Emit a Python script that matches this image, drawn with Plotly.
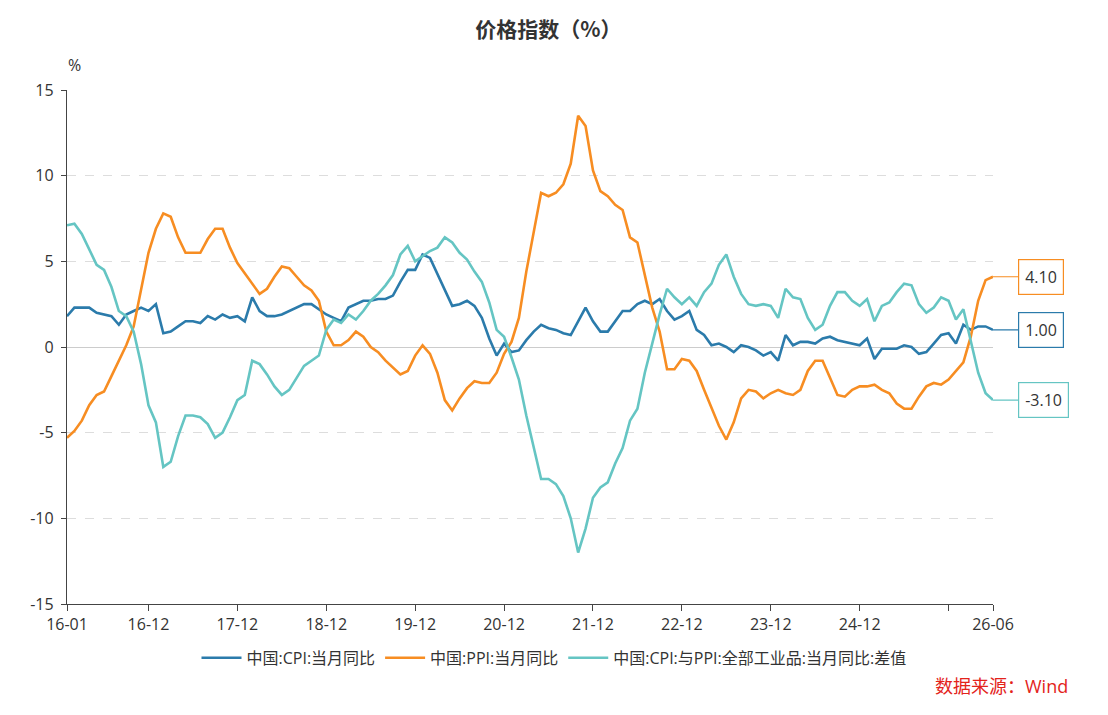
import pandas as pd
import plotly.graph_objects as go

months = [d.strftime("%y-%m") for d in pd.date_range("2016-01-01", "2026-06-01", freq="MS")]

cpi = [
    1.8, 2.3, 2.3, 2.3, 2.0, 1.9, 1.8, 1.3, 1.9, 2.1, 2.3, 2.1,
    2.5, 0.8, 0.9, 1.2, 1.5, 1.5, 1.4, 1.8, 1.6, 1.9, 1.7, 1.8,
    1.5, 2.9, 2.1, 1.8, 1.8, 1.9, 2.1, 2.3, 2.5, 2.5, 2.2, 1.9,
    1.7, 1.5, 2.3, 2.5, 2.7, 2.7, 2.8, 2.8, 3.0, 3.8, 4.5, 4.5,
    5.4, 5.2, 4.3, 3.3, 2.4, 2.5, 2.7, 2.4, 1.7, 0.5, -0.5, 0.2,
    -0.3, -0.2, 0.4, 0.9, 1.3, 1.1, 1.0, 0.8, 0.7, 1.5, 2.3, 1.5,
    0.9, 0.9, 1.5, 2.1, 2.1, 2.5, 2.7, 2.5, 2.8, 2.1, 1.6, 1.8,
    2.1, 1.0, 0.7, 0.1, 0.2, 0.0, -0.3, 0.1, 0.0, -0.2, -0.5, -0.3,
    -0.8, 0.7, 0.1, 0.3, 0.3, 0.2, 0.5, 0.6, 0.4, 0.3, 0.2, 0.1,
    0.5, -0.7, -0.1, -0.1, -0.1, 0.1, 0.0, -0.4, -0.3, 0.2, 0.7, 0.8,
    0.2, 1.3, 1.0, 1.2, 1.2, 1.0,
]

ppi = [
    -5.3, -4.9, -4.3, -3.4, -2.8, -2.6, -1.7, -0.8, 0.1, 1.2, 3.3, 5.5,
    6.9, 7.8, 7.6, 6.4, 5.5, 5.5, 5.5, 6.3, 6.9, 6.9, 5.8, 4.9,
    4.3, 3.7, 3.1, 3.4, 4.1, 4.7, 4.6, 4.1, 3.6, 3.3, 2.7, 0.9,
    0.1, 0.1, 0.4, 0.9, 0.6, 0.0, -0.3, -0.8, -1.2, -1.6, -1.4, -0.5,
    0.1, -0.4, -1.5, -3.1, -3.7, -3.0, -2.4, -2.0, -2.1, -2.1, -1.5, -0.4,
    0.3, 1.7, 4.4, 6.8, 9.0, 8.8, 9.0, 9.5, 10.7, 13.5, 12.9, 10.3,
    9.1, 8.8, 8.3, 8.0, 6.4, 6.1, 4.2, 2.3, 0.9, -1.3, -1.3, -0.7,
    -0.8, -1.4, -2.5, -3.6, -4.6, -5.4, -4.4, -3.0, -2.5, -2.6, -3.0, -2.7,
    -2.5, -2.7, -2.8, -2.5, -1.4, -0.8, -0.8, -1.8, -2.8, -2.9, -2.5, -2.3,
    -2.3, -2.2, -2.5, -2.7, -3.3, -3.6, -3.6, -2.9, -2.3, -2.1, -2.2, -1.9,
    -1.4, -0.9, 0.6, 2.7, 3.9, 4.1,
]

spread = [
    7.1, 7.2, 6.6, 5.7, 4.8, 4.5, 3.5, 2.1, 1.8, 0.9, -1.0, -3.4,
    -4.4, -7.0, -6.7, -5.2, -4.0, -4.0, -4.1, -4.5, -5.3, -5.0, -4.1, -3.1,
    -2.8, -0.8, -1.0, -1.6, -2.3, -2.8, -2.5, -1.8, -1.1, -0.8, -0.5, 1.0,
    1.6, 1.4, 1.9, 1.6, 2.1, 2.7, 3.1, 3.6, 4.2, 5.4, 5.9, 5.0,
    5.3, 5.6, 5.8, 6.4, 6.1, 5.5, 5.1, 4.4, 3.8, 2.6, 1.0, 0.6,
    -0.6, -1.9, -4.0, -5.9, -7.7, -7.7, -8.0, -8.7, -10.0, -12.0, -10.6, -8.8,
    -8.2, -7.9, -6.8, -5.9, -4.3, -3.6, -1.5, 0.2, 1.9, 3.4, 2.9, 2.5,
    2.9, 2.4, 3.2, 3.7, 4.8, 5.4, 4.1, 3.1, 2.5, 2.4, 2.5, 2.4,
    1.7, 3.4, 2.9, 2.8, 1.7, 1.0, 1.3, 2.4, 3.2, 3.2, 2.7, 2.4,
    2.8, 1.5, 2.4, 2.6, 3.2, 3.7, 3.6, 2.5, 2.0, 2.3, 2.9, 2.7,
    1.6, 2.2, 0.4, -1.5, -2.7, -3.1,
]

series_names = ["中国:CPI:当月同比", "中国:PPI:当月同比", "中国:CPI:与PPI:全部工业品:当月同比:差值"]
colors = ["#2b7bab", "#f78d22", "#65c5c3"]

tick_vals = ["16-01", "16-12", "17-12", "18-12", "19-12", "20-12", "21-12", "22-12", "23-12", "24-12", "25-12", "26-06"]
tick_text = ["16-01", "16-12", "17-12", "18-12", "19-12", "20-12", "21-12", "22-12", "23-12", "24-12", "", "26-06"]
y_ticks = [15, 10, 5, 0, -5, -10, -15]
y_tick_text = ["15", "10", "5", "0", "-5", "-10", "-15"]

FONT = "Open Sans, Noto Sans CJK SC, sans-serif"
TXT = "#333333"

fig = go.Figure()
for name, vals, col in zip(series_names, [cpi, ppi, spread], colors):
    fig.add_trace(go.Scatter(x=months, y=vals, name=name, mode="lines",
                             line=dict(color=col, width=2.6)))

# end-value labels
for vals, col in zip([cpi, ppi, spread], colors):
    fig.add_annotation(x=months[-1], y=vals[-1], xref="x", yref="y",
                       text=f"{vals[-1]:.2f}", showarrow=True, arrowhead=0,
                       arrowwidth=1.2, arrowcolor=col, ax=25, ay=0,
                       xanchor="left", bordercolor=col, borderwidth=1.2,
                       borderpad=6, bgcolor="white",
                       font=dict(family=FONT, size=16, color=TXT))

fig.add_annotation(x=-0.001, y=1.0486, xref="paper", yref="paper", text="%",
                   showarrow=False, yanchor="middle",
                   font=dict(family=FONT, size=16, color=TXT))
fig.add_annotation(x=1.0832, y=-0.1595, xref="paper", yref="paper", text="数据来源：Wind",
                   showarrow=False, xanchor="right", yanchor="middle",
                   font=dict(family=FONT, size=18, color="#e3231b"))

fig.update_layout(
    width=1108, height=715,
    margin=dict(l=67, r=115, t=90, b=111, autoexpand=False),
    paper_bgcolor="white", plot_bgcolor="white",
    font=dict(family=FONT, size=16, color=TXT),
    title=dict(text="<b>价格指数（%）</b>", x=0.495, xanchor="center", y=0.958, yanchor="middle",
               font=dict(family="Noto Sans CJK SC, sans-serif", size=21, color=TXT)),
    showlegend=True,
    legend=dict(orientation="h", xref="container", yref="container", x=0.5, xanchor="center",
                y=0.08, yanchor="middle", font=dict(size=16, color=TXT), itemwidth=40),
    xaxis=dict(type="category", range=[0, len(months) - 1], tickmode="array",
               tickvals=tick_vals, ticktext=tick_text, showline=True, linecolor="#444",
               linewidth=1.3, ticks="outside", ticklen=6, tickcolor="#444", showgrid=False,
               zeroline=False, automargin=False, tickfont=dict(size=16, color=TXT)),
    yaxis=dict(range=[-15, 15], tickmode="array", tickvals=y_ticks, ticktext=y_tick_text,
               showline=True, linecolor="#444", linewidth=1.3, ticks="outside", ticklen=5,
               tickcolor="#444", ticklabelstandoff=4, automargin=False,
               showgrid=True, gridcolor="#dddddd", griddash="dash", gridwidth=1,
               zeroline=True, zerolinecolor="#cccccc", zerolinewidth=1.2,
               tickfont=dict(size=16, color=TXT)),
)

fig.write_html("out.html")
